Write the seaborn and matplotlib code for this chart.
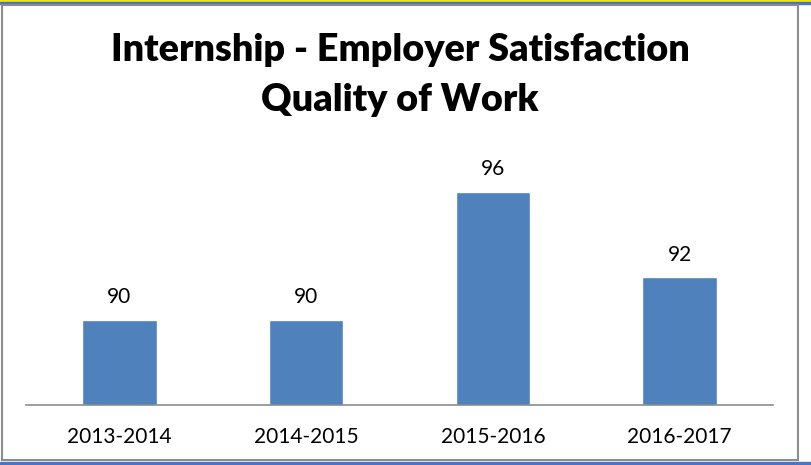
import matplotlib
matplotlib.use("Agg")
import matplotlib.pyplot as plt
import seaborn as sns
import pandas as pd
from matplotlib.patches import Rectangle

# data
years = ["2013-2014", "2014-2015", "2015-2016", "2016-2017"]
scores = [90, 90, 96, 92]

df = pd.DataFrame({"year": years, "score": scores})

sns.set_style("white")
plt.rcParams['font.family'] = ['Lato', 'DejaVu Sans']

W, H = 812, 465
fig = plt.figure(figsize=(W / 100, H / 100), dpi=100)

# frame around chart like the spreadsheet export
fig.patches.append(Rectangle((0, (H - 2) / H), 1, 2 / H, transform=fig.transFigure,
                             color="#f2e600", zorder=0))
fig.patches.append(Rectangle((0, (H - 4) / H), 1, 2 / H, transform=fig.transFigure,
                             color="#4a74c4", zorder=0))
fig.patches.append(Rectangle((0, 0), 1, 3 / H, transform=fig.transFigure,
                             color="#4a74c4", zorder=0))
fig.patches.append(Rectangle((2 / W, 5 / H), 796 / W, 455 / H, transform=fig.transFigure,
                             fill=False, edgecolor="#8c8c8c", linewidth=1.5, zorder=1))

ax = fig.add_axes([26 / W, (H - 405) / H, (773 - 26) / W, 300 / H])
sns.barplot(data=df, x="year", y="score", color="#4f81bd", saturation=1,
            width=0.4, ax=ax)

ax.set_ylim(86, 86 + 300 / 21.33)
ax.set_xlim(-0.5, 3.5)
for c in ax.containers:
    ax.bar_label(c, padding=9, fontsize=15, color="black")

ax.set_xlabel("")
ax.set_ylabel("")
ax.set_yticks([])
ax.tick_params(axis="x", length=0, labelsize=15, pad=16, colors="black")
for s in ["top", "right", "left"]:
    ax.spines[s].set_visible(False)
ax.spines["bottom"].set_color("#8c8c8c")
ax.spines["bottom"].set_linewidth(1.2)
ax.patch.set_alpha(0)

fig.text(400 / W, 1 - 50 / H, "Internship - Employer Satisfaction", ha="center",
         va="center", fontsize=27.2, fontweight="heavy", color="black")
fig.text(400 / W, 1 - 100 / H, "Quality of Work", ha="center",
         va="center", fontsize=27.2, fontweight="heavy", color="black")

fig.savefig("out.png", dpi=100)
